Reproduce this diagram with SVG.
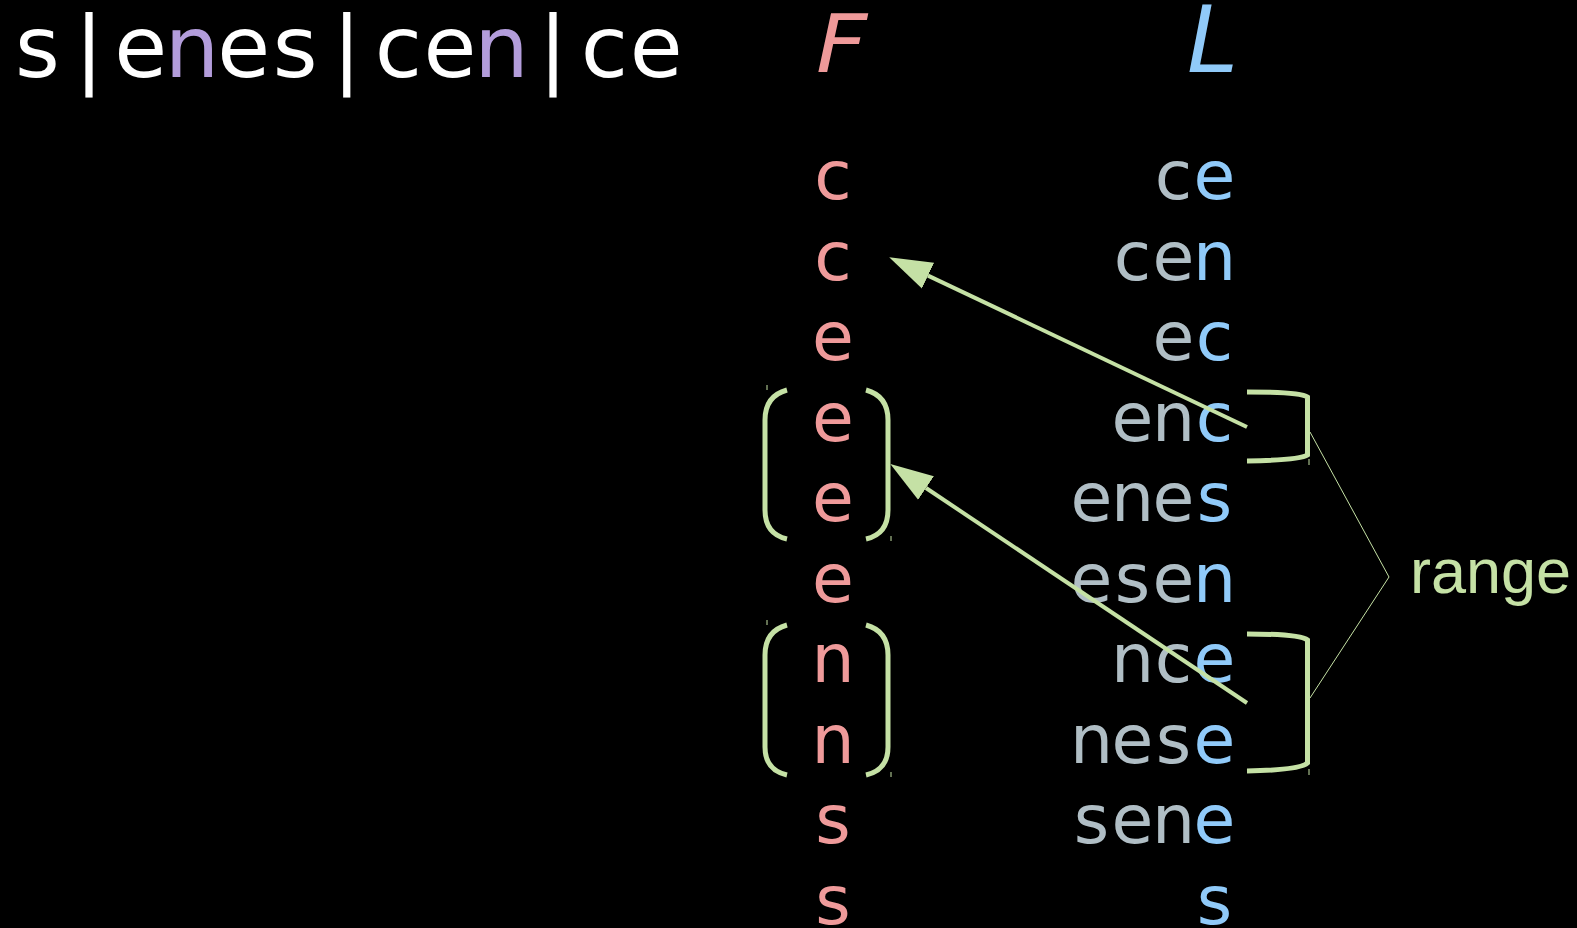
<svg xmlns="http://www.w3.org/2000/svg" width="1577" height="928" viewBox="0 0 1577 928">
  <defs>
    <style>
      .glyph { font-family: "DejaVu Sans", "Liberation Sans", sans-serif; text-anchor: middle; }
      .title { font-size: 86px; fill: #ffffff; }
      .hl { fill: #b39ddb; }
      .head { font-family: "DejaVu Sans", "Liberation Sans", sans-serif; font-style: italic; }
      .fcol { font-size: 68px; fill: #ef9a9a; }
      .lcol { font-size: 68px; fill: #b0bec5; }
      .last { fill: #90caf9; }
      .bracket { fill: none; stroke: #c5e1a5; stroke-width: 5; stroke-linecap: butt; }
      .tick { fill: none; stroke: #c5e1a5; stroke-width: 1; }
      .arrow { fill: none; stroke: #c5e1a5; stroke-width: 4; }
      .thin { fill: none; stroke: #c5e1a5; stroke-width: 1; }
      .label { font-family: "Liberation Sans", Arial, sans-serif; font-size: 63px; fill: #c5e1a5; }
    </style>
    <marker id="head" markerUnits="userSpaceOnUse" markerWidth="44" markerHeight="30" viewBox="0 -14 42 28" refX="0" refY="0" orient="auto">
      <polygon points="0,-13.5 41,0 0,13.5" fill="#c5e1a5"/>
    </marker>
  </defs>

  <rect x="0" y="0" width="1577" height="928" fill="#000000"/>

  <!-- rotated string, one glyph per grid cell -->
  <g id="title">
    <text class="glyph title" y="77" x="37.5 89 140.6 192.1 243.7 295.2 346.8 398.3 449.9 501.4 553 604.5 656.1">s|e<tspan class="hl">n</tspan>es|ce<tspan class="hl">n</tspan>|ce</text>
  </g>

  <!-- column headers -->
  <g id="header-F">
    <text class="head" transform="translate(816,72) scale(1.1,1)" x="0" y="0" font-size="81" fill="#ef9a9a">F</text>
  </g>
  <g id="header-L">
    <text class="head" x="1187" y="72" font-size="92" fill="#90caf9">L</text>
  </g>

  <!-- first column -->
  <g id="col-F" class="glyph fcol">
    <text x="833" y="199">c</text>
    <text x="833" y="279.5">c</text>
    <text x="833" y="360">e</text>
    <text x="833" y="440.5">e</text>
    <text x="833" y="521">e</text>
    <text x="833" y="601.5">e</text>
    <text x="833" y="682">n</text>
    <text x="833" y="762.5">n</text>
    <text x="833" y="843">s</text>
    <text x="833" y="923.5">s</text>
  </g>

  <!-- last column with preceding context -->
  <g id="col-L" class="glyph lcol">
    <text x="1173.5 1214.5" y="199">c<tspan class="last">e</tspan></text>
    <text x="1132.5 1173.5 1214.5" y="279.5">ce<tspan class="last">n</tspan></text>
    <text x="1173.5 1214.5" y="360">e<tspan class="last">c</tspan></text>
    <text x="1132.5 1173.5 1214.5" y="440.5">en<tspan class="last">c</tspan></text>
    <text x="1091.5 1132.5 1173.5 1214.5" y="521">ene<tspan class="last">s</tspan></text>
    <text x="1091.5 1132.5 1173.5 1214.5" y="601.5">ese<tspan class="last">n</tspan></text>
    <text x="1132.5 1173.5 1214.5" y="682">nc<tspan class="last">e</tspan></text>
    <text x="1091.5 1132.5 1173.5 1214.5" y="762.5">nes<tspan class="last">e</tspan></text>
    <text x="1091.5 1132.5 1173.5 1214.5" y="843">sen<tspan class="last">e</tspan></text>
    <text x="1214.5" y="923.5"><tspan class="last">s</tspan></text>
  </g>

  <!-- ranges in F -->
  <g id="range-F-e">
    <path class="bracket" d="M787,390 Q765,396 765,420 L765,510 Q765,534 787,539"/>
    <path class="bracket" d="M866,390 Q888,396 888,420 L888,510 Q888,534 866,539"/>
    <line class="tick" x1="767" y1="385" x2="767" y2="390"/>
    <line class="tick" x1="891" y1="536" x2="891" y2="541"/>
  </g>
  <g id="range-F-n">
    <path class="bracket" d="M787,625 Q765,631 765,655 L765,747 Q765,770 787,775"/>
    <path class="bracket" d="M866,625 Q888,631 888,655 L888,747 Q888,770 866,775"/>
    <line class="tick" x1="767" y1="620" x2="767" y2="625"/>
    <line class="tick" x1="891" y1="772" x2="891" y2="777"/>
  </g>

  <!-- ranges in L -->
  <g id="range-L-top">
    <path class="bracket" d="M1247,392 Q1300,392 1307.5,397 L1307.5,455 Q1300,460 1247,461"/>
    <line class="tick" x1="1309" y1="459" x2="1309" y2="465"/>
  </g>
  <g id="range-L-bottom">
    <path class="bracket" d="M1247,634 Q1300,634 1307.5,640 L1307.5,763 Q1300,770 1247,771"/>
    <line class="tick" x1="1309" y1="769" x2="1309" y2="775"/>
  </g>

  <!-- label -->
  <g id="range-label">
    <polyline class="thin" points="1310,432 1389,577 1310,698"/>
    <text class="label" x="1410" y="593">range</text>
  </g>

  <!-- LF mapping arrows -->
  <g id="connectors">
    <path class="arrow" d="M1247,427 L928,275.6" marker-end="url(#head)"/>
    <path class="arrow" d="M1247,703 L926,488" marker-end="url(#head)"/>
  </g>
</svg>
